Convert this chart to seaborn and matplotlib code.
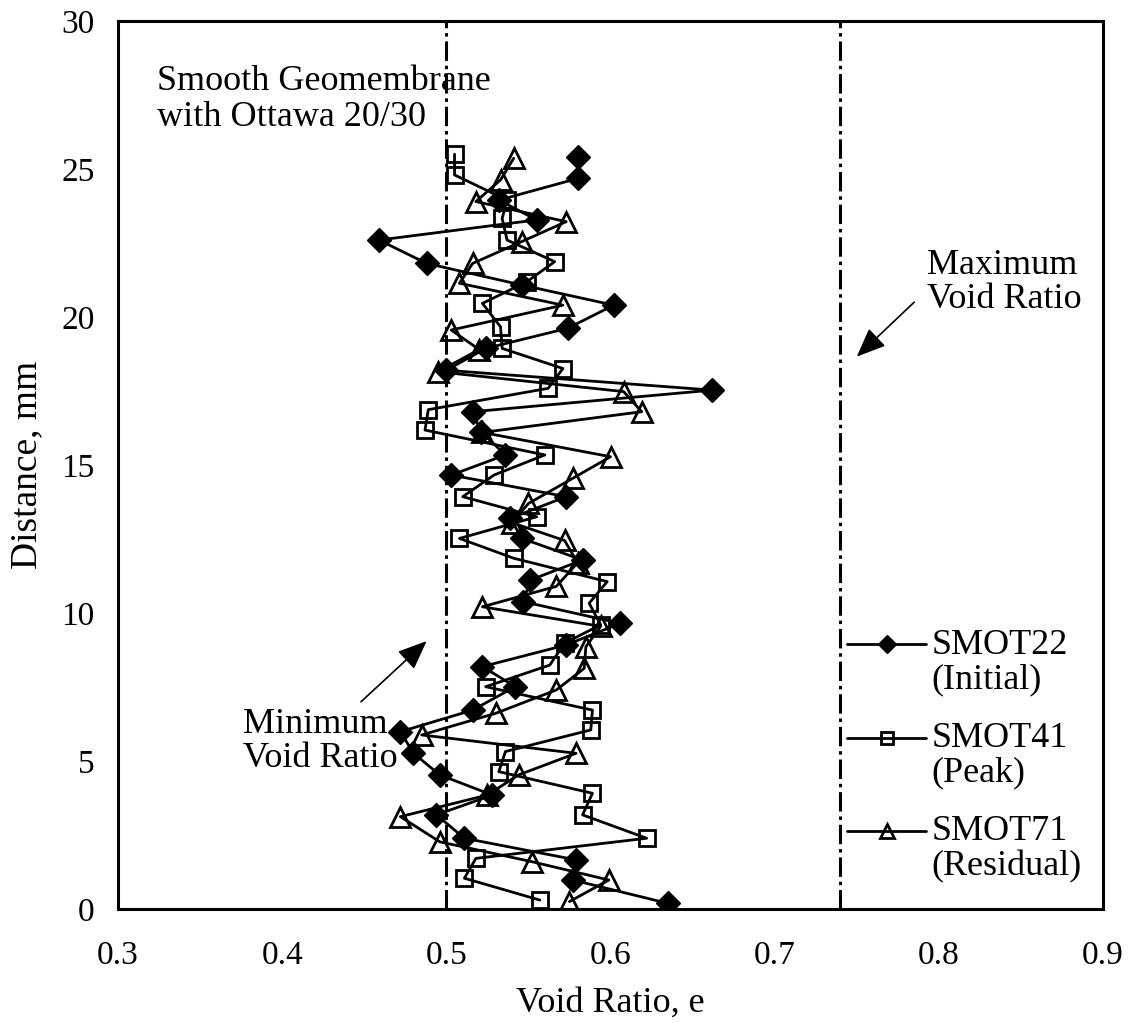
import numpy as np
import pandas as pd
import matplotlib
matplotlib.use("Agg")
import matplotlib.pyplot as plt
import seaborn as sns
from matplotlib.legend_handler import HandlerLine2D

# Void ratio profiles across the shear band (distance in mm, void ratio e)
smot22_dist = [0.19, 0.98, 1.66, 2.39, 3.18, 3.85, 4.53, 5.26, 5.99, 6.72, 7.51, 8.19,
               8.92, 9.65, 10.38, 11.11, 11.79, 12.52, 13.20, 13.93, 14.66, 15.34, 16.13, 16.80,
               17.53, 18.20, 18.94, 19.62, 20.40, 21.08, 21.81, 22.60, 23.28, 23.95, 24.68, 25.42]
smot22_e = [0.635, 0.577, 0.579, 0.511, 0.494, 0.528, 0.496, 0.480, 0.472, 0.516, 0.542, 0.522,
            0.573, 0.606, 0.547, 0.551, 0.583, 0.546, 0.539, 0.573, 0.503, 0.536, 0.521, 0.516,
            0.662, 0.500, 0.524, 0.574, 0.602, 0.546, 0.488, 0.459, 0.555, 0.532, 0.580, 0.580]

smot41_dist = [0.30, 1.04, 1.71, 2.39, 3.18, 3.91, 4.64, 5.32, 6.05, 6.72, 7.51, 8.24,
               8.98, 9.60, 10.33, 11.06, 11.85, 12.52, 13.25, 13.93, 14.66, 15.34, 16.18, 16.87,
               17.59, 18.26, 18.94, 19.67, 20.46, 21.19, 21.87, 22.60, 23.33, 23.95, 24.80, 25.50]
smot41_e = [0.557, 0.511, 0.518, 0.622, 0.583, 0.589, 0.532, 0.536, 0.588, 0.589, 0.524, 0.563,
            0.572, 0.594, 0.587, 0.598, 0.541, 0.508, 0.555, 0.510, 0.529, 0.560, 0.487, 0.489,
            0.562, 0.571, 0.534, 0.533, 0.522, 0.549, 0.566, 0.537, 0.534, 0.537, 0.505, 0.505]

smot71_dist = [0.25, 0.98, 1.60, 2.27, 3.12, 3.85, 4.53, 5.26, 5.88, 6.61, 7.40, 8.13,
               8.86, 9.55, 10.21, 10.90, 11.70, 12.45, 13.05, 13.70, 14.55, 15.28, 16.10, 16.80,
               17.48, 18.15, 18.90, 19.56, 20.40, 21.14, 21.81, 22.55, 23.22, 23.90, 24.63, 25.36]
smot71_e = [0.575, 0.599, 0.552, 0.496, 0.472, 0.525, 0.544, 0.579, 0.485, 0.530, 0.567, 0.584,
            0.585, 0.594, 0.522, 0.567, 0.580, 0.572, 0.540, 0.550, 0.577, 0.600, 0.522, 0.619,
            0.608, 0.495, 0.520, 0.503, 0.571, 0.508, 0.516, 0.546, 0.573, 0.518, 0.533, 0.541]

series_labels = ["SMOT22\n(Initial)", "SMOT41\n(Peak)", "SMOT71\n(Residual)"]

e_min = 0.50
e_max = 0.74

x_ticks = [0.3, 0.4, 0.5, 0.6, 0.7, 0.8, 0.9]
y_ticks = [0, 5, 10, 15, 20, 25, 30]

sns.set_theme(style="white")
plt.rcParams["font.family"] = ["Liberation Serif", "DejaVu Serif"]
plt.rcParams["lines.scale_dashes"] = False
plt.rcParams["text.color"] = "black"
plt.rcParams["axes.labelcolor"] = "black"

fig = plt.figure(figsize=(11.29, 10.23), dpi=100)
ax = fig.add_axes([118 / 1129, 114 / 1023, 985 / 1129, 888 / 1023])

dashdot = (0, (14, 3.5, 2.5, 3.5))
ax.axvline(e_min, color="black", lw=2.2, linestyle=dashdot, zorder=1)
ax.axvline(e_max, color="black", lw=2.2, linestyle=dashdot, zorder=1)

frames = {
    "SMOT22": pd.DataFrame({"e": smot22_e, "dist": smot22_dist}),
    "SMOT41": pd.DataFrame({"e": smot41_e, "dist": smot41_dist}),
    "SMOT71": pd.DataFrame({"e": smot71_e, "dist": smot71_dist}),
}
styles = {
    "SMOT41": dict(marker="s", markersize=11.5, markerfacecolor="none",
                   markeredgecolor="black", markeredgewidth=2.0),
    "SMOT71": dict(marker="^", markersize=14, markerfacecolor="none",
                   markeredgecolor="black", markeredgewidth=2.0),
    "SMOT22": dict(marker="D", markersize=12.5, markerfacecolor="black",
                   markeredgecolor="black", markeredgewidth=1.0),
}

handles = {}
for name in ["SMOT41", "SMOT71", "SMOT22"]:
    sns.lineplot(data=frames[name], x="e", y="dist", orient="y", sort=True,
                 estimator=None, color="black", linewidth=2.0, ax=ax,
                 **styles[name])
    handles[name] = ax.lines[-1]

ax.set_xlim(0.3, 0.9)
ax.set_ylim(0, 30)
ax.set_xticks(x_ticks)
ax.set_xticklabels([f"{v:.1f}" for v in x_ticks])
ax.set_yticks(y_ticks)
ax.set_yticklabels([str(v) for v in y_ticks])
ax.tick_params(axis="both", direction="in", length=6, width=1.2,
               labelsize=24, colors="black")
ax.tick_params(axis="x", pad=23)
ax.tick_params(axis="y", pad=17)
for sp in ax.spines.values():
    sp.set_color("black")
    sp.set_linewidth(2.2)

ax.set_xlabel("Void Ratio, e", fontsize=26, labelpad=11)
ax.set_ylabel("Distance, mm", fontsize=27, labelpad=12)

ax.text(0.324, 28.5, "Smooth Geomembrane\nwith Ottawa 20/30", fontsize=26,
        ha="left", va="top", linespacing=1.1, zorder=5)
ax.text(0.793, 22.3, "Maximum\nVoid Ratio", fontsize=26,
        ha="left", va="top", linespacing=1.05)
ax.text(0.376, 6.8, "Minimum\nVoid Ratio", fontsize=26,
        ha="left", va="top", linespacing=1.05)

head = "-|>,head_length=0.6,head_width=0.25"
ax.annotate("", xy=(0.488, 9.05), xytext=(0.448, 7.0),
            arrowprops=dict(arrowstyle=head, mutation_scale=30, lw=1.2,
                            color="black", shrinkA=0, shrinkB=0))
ax.annotate("", xy=(0.750, 18.66), xytext=(0.785, 20.5),
            arrowprops=dict(arrowstyle=head, mutation_scale=30, lw=1.2,
                            color="black", shrinkA=0, shrinkB=0))


class FirstLineHandler(HandlerLine2D):
    """Places the legend sample beside the first line of a two-line label."""

    def __init__(self, lift, **kw):
        super().__init__(**kw)
        self.lift = lift

    def create_artists(self, legend, orig_handle, xdescent, ydescent,
                       width, height, fontsize, trans):
        arts = super().create_artists(legend, orig_handle, xdescent, ydescent,
                                      width, height, fontsize, trans)
        for a in arts:
            a.set_ydata(np.asarray(a.get_ydata(), dtype=float) + self.lift * fontsize)
        return arts


leg_handles = [handles["SMOT22"], handles["SMOT41"], handles["SMOT71"]]
leg = ax.legend(leg_handles, series_labels, loc="upper left",
                bbox_to_anchor=(847 / 1129, 1 - 629 / 1023),
                bbox_transform=fig.transFigure, frameon=False, fontsize=26,
                handlelength=2.2, handletextpad=0.15, labelspacing=0.72,
                borderpad=0, borderaxespad=0, markerscale=0.75,
                handler_map={h: FirstLineHandler(0.5, numpoints=1) for h in leg_handles})
for t in leg.get_texts():
    t.set_linespacing(1.05)

fig.savefig("out.png", dpi=100, facecolor="white")
